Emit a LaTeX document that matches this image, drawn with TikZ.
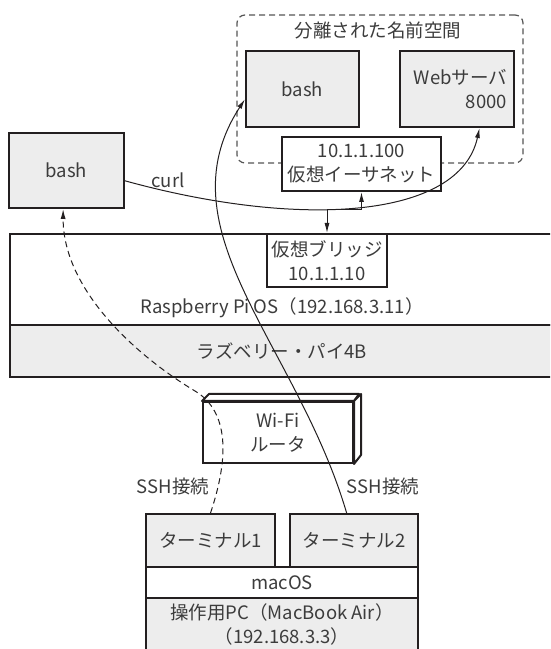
\documentclass[tikz,border=0pt]{standalone}
\usepackage{fontspec}
\setmainfont{Noto Sans CJK JP}
\usetikzlibrary{arrows.meta}
\definecolor{txt}{HTML}{3C3C3C}
\definecolor{boxfill}{HTML}{EDEDED}
\definecolor{boxline}{HTML}{231F20}
\definecolor{nsline}{HTML}{555555}

\begin{document}
\begin{tikzpicture}[x=1pt,y=1pt,
  font=\fontsize{18.5}{24}\selectfont,
  every node/.append style={text=txt,inner sep=0pt,align=center},
  graybox/.style={draw=boxline,line width=2pt,fill=boxfill},
  whitebox/.style={draw=boxline,line width=2pt,fill=white},
  conn/.style={draw=boxline,line width=1pt,-{Latex[length=10pt,width=5pt]}}]
\path[use as bounding box] (0,0) rectangle (550,649);
\clip (0,0) rectangle (550,649);

% namespace
\node[draw=nsline,line width=1.2pt,dash pattern=on 6pt off 4pt,rounded corners=8pt,
  minimum width=286pt,minimum height=148pt] (ns) at (380,560) {};
\node (nstitle) at (378,619) {分離された名前空間};
\node[graybox,minimum width=113pt,minimum height=76pt] (nsbash) at (302.5,560) {bash};
\node[graybox,minimum width=114pt,minimum height=76pt,text width=100pt,align=right] (web) at (457,560) {Webサーバ\\8000};
\node[whitebox,minimum width=159pt,minimum height=54pt] (eth) at (361.5,485) {10.1.1.100\\仮想イーサネット};

\node[graybox,minimum width=115pt,minimum height=75pt] (bashL) at (66.5,478.5) {bash};
\node (curl) at (168,469) {curl};

% Raspberry Pi
\node[whitebox,minimum width=544pt,minimum height=91pt] (rpi) at (282,369.5) {};
\node (rpitext) at (282,341) {Raspberry Pi OS（192.168.3.11）};
\node[graybox,minimum width=544pt,minimum height=52pt] (rpihw) at (282,298) {ラズベリー・パイ4B};
\node[whitebox,minimum width=120pt,minimum height=53pt] (bridge) at (327,388.5) {仮想ブリッジ\\10.1.1.10};

% router
\node[whitebox,minimum width=150pt,minimum height=61pt] (wifi) at (278,216.5) {Wi-Fi\\ルータ};
\draw[boxline,line width=2pt,fill=white,line join=round] (wifi.north west) -- ++(7,7) -- ++(150,0) -- (wifi.north east) -- cycle;
\draw[boxline,line width=2pt,fill=white,line join=round] (wifi.north east) -- ++(7,7) -- ++(0,-61) -- (wifi.south east) -- cycle;

% Mac
\node[graybox,minimum width=129pt,minimum height=53pt] (term1) at (210.5,108.5) {ターミナル1};
\node[graybox,minimum width=128pt,minimum height=53pt] (term2) at (354,108.5) {ターミナル2};
\node[whitebox,minimum width=272pt,minimum height=31pt] (macos) at (282,66.5) {macOS};
\node[graybox,minimum width=272pt,minimum height=53pt] (pc) at (282,24.5) {操作用PC（MacBook Air）\\（192.168.3.3）};

\node (ssh1) at (173,163) {SSH接続};
\node (ssh2) at (383,163) {SSH接続};

% connections
\draw[conn,{Latex[length=10pt,width=5pt]}-{Latex[length=10pt,width=5pt]}] (eth.south) -- ++(0,-18) -| (bridge.north);
\draw[conn] (bashL.-10) .. controls (300,420) and (460,430) .. (web.-60);
\draw[conn,dash pattern=on 6pt off 4pt] (term1.north) .. controls (232,200) and (225,240) .. (195,258)
  .. controls (135,294) and (63,360) .. (bashL.265);
\draw[conn] (term2.105) .. controls (297,305) and (160,419) .. (nsbash.190);
\end{tikzpicture}
\end{document}
